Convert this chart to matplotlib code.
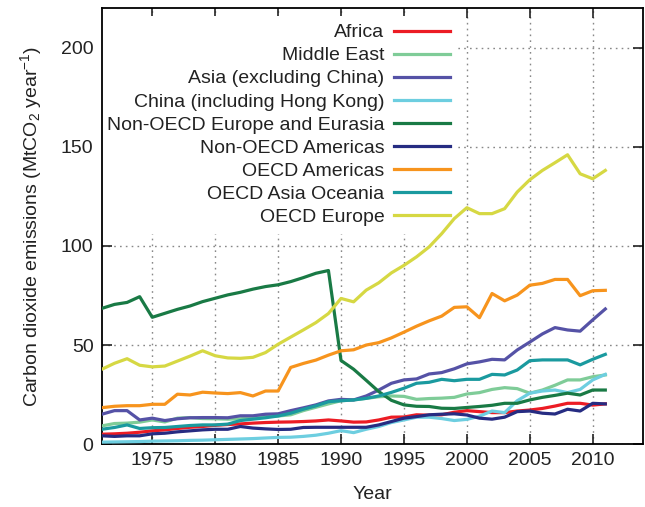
import numpy as np
import matplotlib
matplotlib.use("Agg")
import matplotlib.pyplot as plt

plt.rcParams['font.family'] = ['Liberation Sans', 'DejaVu Sans']
plt.rcParams['mathtext.fontset'] = 'custom'
plt.rcParams['mathtext.rm'] = 'Liberation Sans'
plt.rcParams['mathtext.it'] = 'Liberation Sans:italic'

years = np.arange(1971, 2012)

africa = [5.0, 5.2, 5.5, 6.0, 6.7, 7.2, 7.9, 8.5, 8.9, 9.5,
          9.9, 10.2, 10.6, 10.9, 11.1, 11.2, 11.4, 11.7, 12.2, 11.7,
          11.1, 11.2, 12.2, 13.6, 13.7, 14.8, 14.6, 14.8, 16.1, 16.9,
          16.4, 15.9, 15.9, 16.7, 17.2, 18.0, 19.2, 20.6, 20.6, 19.7, 20.3]
middle_east = [9.2, 10.4, 10.6, 11.1, 12.2, 11.2, 13.1, 13.4, 12.9, 12.8,
               12.6, 12.8, 13.4, 13.9, 14.2, 14.8, 16.9, 18.6, 20.3, 21.9,
               22.3, 23.1, 23.9, 24.3, 24.1, 22.6, 23.0, 23.2, 23.6, 25.3,
               26.0, 27.6, 28.5, 28.0, 25.7, 27.3, 29.7, 32.4, 32.4, 34.0, 34.9]
asia = [15.1, 16.9, 16.9, 12.2, 13.1, 11.9, 12.8, 13.3, 13.4, 13.4,
        13.3, 14.3, 14.3, 15.1, 15.3, 16.9, 18.3, 19.8, 21.8, 22.6,
        22.3, 24.3, 27.3, 30.7, 32.4, 32.9, 35.4, 36.1, 38.0, 40.5,
        41.5, 42.8, 42.5, 47.5, 51.5, 55.6, 58.8, 57.6, 57.0, 62.7, 68.2]
china = [1.0, 1.1, 1.2, 1.3, 1.5, 1.6, 1.7, 1.9, 2.0, 2.2,
         2.4, 2.6, 2.8, 3.1, 3.4, 3.5, 3.9, 4.5, 5.5, 6.8,
         5.8, 7.5, 8.9, 10.9, 12.2, 13.6, 13.6, 12.9, 11.9, 12.5,
         14.1, 16.7, 15.9, 21.9, 25.7, 26.8, 27.3, 26.0, 27.6, 32.4, 35.2]
non_oecd_europe = [68.5, 70.5, 71.5, 74.4, 64.0, 66.0, 68.0, 69.7, 71.9, 73.6,
                   75.3, 76.6, 78.2, 79.5, 80.4, 82.0, 84.0, 86.2, 87.6, 42.2,
                   37.8, 32.2, 26.5, 22.1, 19.8, 19.1, 19.0, 18.1, 18.0, 18.5,
                   19.0, 19.6, 20.6, 20.6, 22.3, 23.6, 24.6, 25.7, 24.8, 27.3, 27.3]
non_oecd_americas = [4.2, 3.9, 4.2, 4.2, 5.2, 5.5, 6.2, 6.7, 7.2, 7.5,
                     7.5, 8.9, 8.1, 7.7, 7.4, 7.5, 8.4, 8.5, 8.5, 8.5,
                     8.5, 8.5, 9.7, 11.4, 13.1, 13.9, 14.8, 15.1, 15.3, 14.7,
                     13.1, 12.6, 13.6, 16.4, 16.7, 15.6, 15.2, 17.6, 16.7, 20.6, 20.3]
oecd_americas = [18.4, 19.1, 19.4, 19.4, 20.1, 20.1, 25.2, 24.8, 26.2, 25.8,
                 25.5, 26.0, 24.3, 26.8, 26.8, 38.7, 40.7, 42.4, 44.9, 47.1,
                 47.6, 50.0, 51.2, 53.6, 56.5, 59.5, 62.2, 64.6, 69.0, 69.3,
                 63.8, 76.0, 72.3, 75.2, 80.2, 81.1, 83.1, 83.1, 74.9, 77.4, 77.6]
oecd_asia = [7.5, 8.4, 9.7, 7.9, 8.3, 8.4, 8.9, 9.4, 9.7, 9.7,
             10.1, 11.9, 12.6, 13.3, 14.2, 15.6, 17.6, 19.3, 21.4, 21.9,
             22.3, 23.1, 24.3, 26.1, 28.2, 30.7, 31.2, 32.7, 32.0, 32.7,
             32.7, 35.2, 34.9, 37.4, 42.1, 42.5, 42.5, 42.5, 40.0, 42.8, 45.3]
oecd_europe = [37.8, 40.8, 43.1, 39.8, 39.0, 39.4, 41.9, 44.4, 47.1, 44.6,
               43.5, 43.3, 43.8, 46.2, 50.4, 54.0, 57.6, 61.3, 65.9, 73.5,
               71.8, 77.7, 81.4, 86.4, 90.2, 94.5, 99.5, 106.2, 113.8, 119.3,
               116.3, 116.3, 118.8, 127.2, 133.4, 138.1, 142.0, 146.0, 136.4, 133.9, 138.1]

labels = ['Africa', 'Middle East', 'Asia (excluding China)',
          'China (including Hong Kong)', 'Non-OECD Europe and Eurasia',
          'Non-OECD Americas', 'OECD Americas', 'OECD Asia Oceania', 'OECD Europe']
series = [africa, middle_east, asia, china, non_oecd_europe,
          non_oecd_americas, oecd_americas, oecd_asia, oecd_europe]
colors = ['#ec1c24', '#7fcc98', '#5552a6', '#6dcee0', '#197a45',
          '#262c82', '#f7941d', '#1a9a9f', '#d6d843']

fs = 14

fig = plt.figure(figsize=(6.45, 5.07), dpi=100)
ax = fig.add_axes([0.158, 0.124, 0.839, 0.86])

for vals, lab, col in zip(series, labels, colors):
    ax.plot(years, vals, color=col, lw=2.3, label=lab, zorder=3)

ax.set_xlim(1971, 2014)
ax.set_ylim(0, 220)
ax.set_xticks(np.arange(1975, 2011, 5))
ax.set_yticks(np.arange(0, 201, 50))
ax.grid(True, linestyle=(0, (1.2, 3)), color='#888888', lw=1.0)
ax.tick_params(direction='in', length=7, width=1.2, top=True, right=True,
               labelsize=fs, pad=6, colors='#222222')
for sp in ax.spines.values():
    sp.set_linewidth(1.3)

ax.set_xlabel('Year', fontsize=fs, labelpad=12, color='#222222')
ax.set_ylabel('Carbon dioxide emissions (MtCO$_2$ year$^{-1}$)', fontsize=fs,
              labelpad=12, color='#222222')

leg = ax.legend(loc='upper right', bbox_to_anchor=(0.657, 0.982), markerfirst=False,
                fontsize=fs, handlelength=2.85, handletextpad=0.5,
                labelspacing=0.28, borderpad=0.4, borderaxespad=0.0,
                frameon=True, facecolor='white', edgecolor='none', framealpha=1,
                fancybox=False)
leg.set_zorder(2)  # above the grid, under the data lines
for t in leg.get_texts():
    t.set_color('#222222')

fig.savefig('out.png', dpi=100)
